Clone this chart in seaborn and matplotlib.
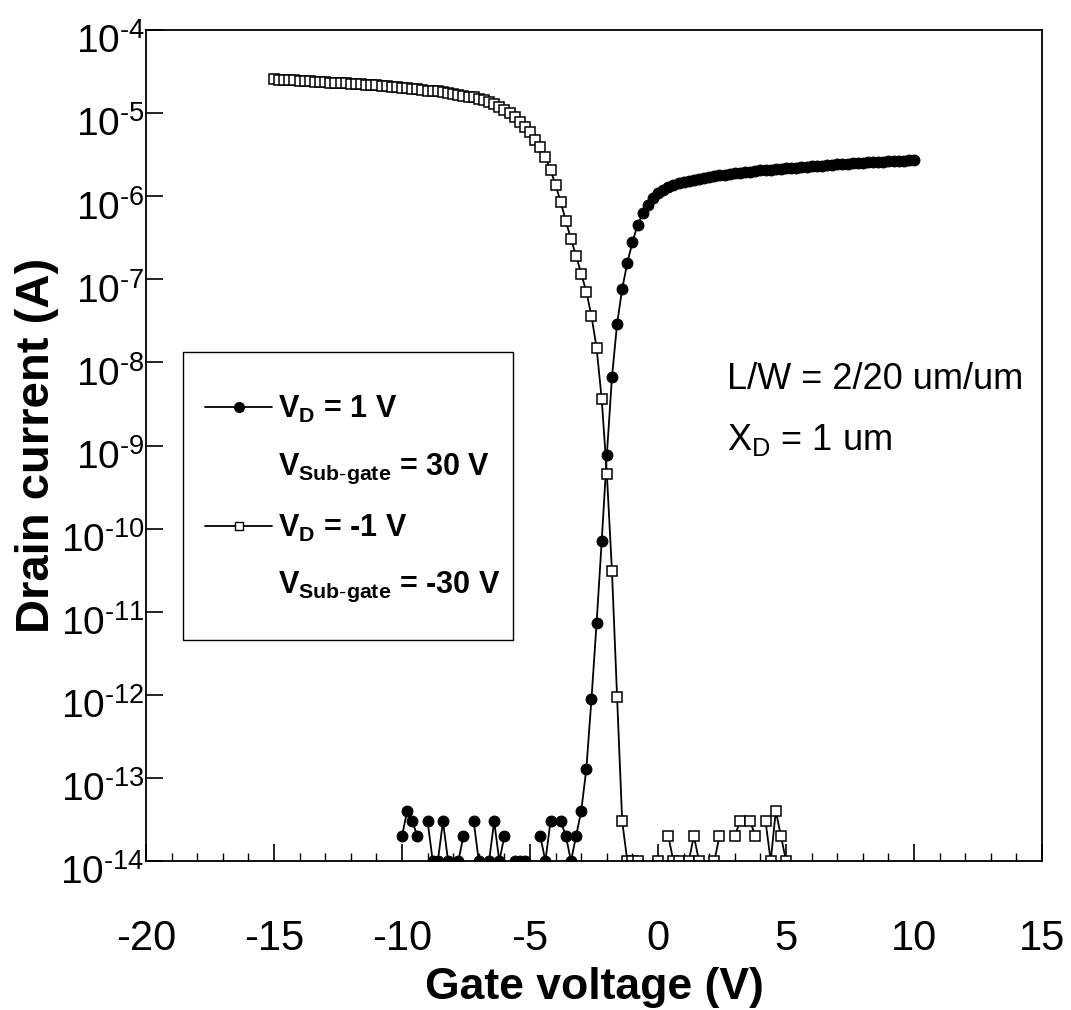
import numpy as np
import pandas as pd
import matplotlib
matplotlib.use("Agg")
import matplotlib.pyplot as plt
from matplotlib.lines import Line2D
from matplotlib.patches import Rectangle
from matplotlib.transforms import ScaledTranslation
from matplotlib.ticker import LogLocator, MultipleLocator, NullLocator, FuncFormatter
import seaborn as sns

# ---- measured transfer curves (gate sweeps in 0.2 V steps) ----
# NaN = reading below the instrument floor (not plotted on a log axis)
nan = np.nan

vg_pos_start, vg_pos_stop = -10.0, 10.0
id_pos = [  # V_D = 1 V, V_Sub-gate = 30 V
    2e-14, 4e-14, 3e-14, 2e-14, nan, 3e-14, 1e-14, 1e-14, 3e-14, 1e-14,
    nan, 1e-14, 2e-14, nan, 3e-14, 1e-14, nan, 1e-14, 3e-14, 1e-14,
    2e-14, nan, 1e-14, 1e-14, 1e-14, nan, nan, 2e-14, 1e-14, 3e-14,
    nan, 3e-14, 2e-14, 1e-14, 2e-14, 4e-14, 1.29e-13, 8.9e-13, 7.3e-12, 7.1e-11,
    7.7e-10, 6.6e-9, 2.9e-8, 7.7e-8, 1.58e-7, 2.8e-7, 4.5e-7, 6.2e-7, 7.9e-7, 9.5e-7,
    1.10e-6, 1.20e-6, 1.29e-6, 1.36e-6, 1.43e-6, 1.48e-6, 1.53e-6, 1.58e-6, 1.62e-6, 1.66e-6,
    1.70e-6, 1.74e-6, 1.78e-6, 1.82e-6, 1.84e-6, 1.88e-6, 1.91e-6, 1.95e-6, 1.97e-6, 2.00e-6,
    2.04e-6, 2.07e-6, 2.09e-6, 2.11e-6, 2.14e-6, 2.16e-6, 2.19e-6, 2.21e-6, 2.24e-6, 2.26e-6,
    2.29e-6, 2.32e-6, 2.34e-6, 2.37e-6, 2.40e-6, 2.43e-6, 2.45e-6, 2.47e-6, 2.49e-6, 2.51e-6,
    2.53e-6, 2.55e-6, 2.57e-6, 2.59e-6, 2.61e-6, 2.63e-6, 2.64e-6, 2.66e-6, 2.68e-6, 2.69e-6,
    2.71e-6,
]

vg_neg_start, vg_neg_stop = -15.0, 5.0
id_neg = [  # V_D = -1 V, V_Sub-gate = -30 V
    2.55e-5, 2.53e-5, 2.51e-5, 2.49e-5, 2.47e-5, 2.45e-5, 2.43e-5, 2.41e-5, 2.39e-5, 2.37e-5,
    2.35e-5, 2.33e-5, 2.31e-5, 2.29e-5, 2.28e-5, 2.25e-5, 2.24e-5, 2.22e-5, 2.20e-5, 2.18e-5,
    2.16e-5, 2.13e-5, 2.10e-5, 2.07e-5, 2.04e-5, 2.01e-5, 1.98e-5, 1.95e-5, 1.93e-5, 1.90e-5,
    1.87e-5, 1.85e-5, 1.82e-5, 1.78e-5, 1.74e-5, 1.70e-5, 1.66e-5, 1.62e-5, 1.58e-5, 1.55e-5,
    1.49e-5, 1.42e-5, 1.36e-5, 1.29e-5, 1.19e-5, 1.09e-5, 1.00e-5, 8.87e-6, 7.85e-6, 6.82e-6,
    5.86e-6, 4.79e-6, 3.89e-6, 2.95e-6, 2.07e-6, 1.36e-6, 8.5e-7, 5.0e-7, 3.05e-7, 1.91e-7,
    1.17e-7, 7.1e-8, 3.6e-8, 1.50e-8, 3.6e-9, 4.6e-10, 3.1e-11, 9.5e-13, 3e-14, 1e-14,
    1e-14, 1e-14, nan, nan, nan, 1e-14, nan, 2e-14, 1e-14, 1e-14,
    nan, 1e-14, 2e-14, 1e-14, nan, nan, 1e-14, 2e-14, nan, nan,
    2e-14, 3e-14, nan, 3e-14, 2e-14, nan, 3e-14, 1e-14, 4e-14, 2e-14,
    1e-14,
]

legend_labels = [
    r"$\mathbf{V_D}$ = 1 V",
    r"$\mathbf{V_{Sub\text{-}gate}}$ = 30 V",
    r"$\mathbf{V_D}$ = -1 V",
    r"$\mathbf{V_{Sub\text{-}gate}}$ = -30 V",
]
device_text = ["L/W = 2/20 um/um", r"X$_\mathregular{D}$ = 1 um"]


def sweep_frame(start, stop, current):
    n = len(current)
    vg = np.round(np.linspace(start, stop, n), 2)
    df = pd.DataFrame({"vg": vg, "id": current})
    # each run of valid readings becomes its own line segment
    df["seg"] = df["id"].isna().cumsum()
    return df.dropna()


pos = sweep_frame(vg_pos_start, vg_pos_stop, id_pos)
neg = sweep_frame(vg_neg_start, vg_neg_stop, id_neg)

sns.set_theme(style="ticks")
plt.rcParams["font.family"] = ["Liberation Sans", "DejaVu Sans"]
plt.rcParams["mathtext.fontset"] = "custom"
plt.rcParams["mathtext.rm"] = "Liberation Sans"
plt.rcParams["mathtext.bf"] = "Liberation Sans:bold"
plt.rcParams["mathtext.it"] = "Liberation Sans:italic"
plt.rcParams["axes.unicode_minus"] = False
for key in ["text.color", "axes.labelcolor", "xtick.color", "ytick.color", "axes.edgecolor"]:
    plt.rcParams[key] = "black"

fig = plt.figure(figsize=(10.71, 10.10), dpi=100)
ax = fig.add_axes([0.1363, 0.1475, 0.8367, 0.8228])

line_kw = dict(color="black", linewidth=1.3, estimator=None, sort=False, legend=False, ax=ax)
sns.lineplot(data=pos, x="vg", y="id", units="seg", marker="o", markersize=7.8,
             markerfacecolor="black", markeredgecolor="black", **line_kw)
sns.lineplot(data=neg, x="vg", y="id", units="seg", marker="s", markersize=7.0,
             markerfacecolor="white", markeredgecolor="black", markeredgewidth=1.1, **line_kw)

ax.set_yscale("log")
ax.set_ylim(1e-14, 1e-4)
ax.set_xlim(-20, 15)
ax.yaxis.set_major_locator(LogLocator(base=10, numticks=20))
ax.yaxis.set_minor_locator(NullLocator())
ax.yaxis.set_major_formatter(FuncFormatter(
    lambda v, p: r"$\mathregular{10^{\text{-}%d}}$" % round(-np.log10(v))))
ax.xaxis.set_major_locator(MultipleLocator(5))
ax.xaxis.set_minor_locator(MultipleLocator(1))

for s in ax.spines.values():
    s.set_linewidth(1.3)
    s.set_color("black")
ax.tick_params(which="both", direction="in", top=False, right=False, color="black")
ax.tick_params(which="major", length=12, width=1.2)
ax.tick_params(which="minor", length=6, width=1.0)
ax.tick_params(axis="x", which="major", labelsize=30, pad=42)
ax.tick_params(axis="y", which="major", labelsize=28, pad=1)
shift = ScaledTranslation(0, -6 / 72, fig.dpi_scale_trans)
for lab in ax.get_yticklabels():
    lab.set_transform(lab.get_transform() + shift)

ax.set_xlabel("Gate voltage (V)", fontsize=32, fontweight="bold")
ax.set_ylabel("Drain current (A)", fontsize=34, fontweight="bold")
ax.xaxis.set_label_coords(0.5, -0.128)
ax.yaxis.set_label_coords(-0.097, 0.5)

# legend: four rows (second line of each entry has no handle) inside a plain frame
blank = Line2D([], [], color="none")
h_pos = Line2D([], [], color="black", linewidth=1.3, marker="o", markersize=7,
               markerfacecolor="black", markeredgecolor="black")
h_neg = Line2D([], [], color="black", linewidth=1.3, marker="s", markersize=6,
               markerfacecolor="white", markeredgecolor="black")
leg = ax.legend([h_pos, blank, h_neg, blank], legend_labels,
                loc="upper left", bbox_to_anchor=(0.0658, 0.5620), borderaxespad=0,
                prop={"weight": "bold", "size": 22}, frameon=False,
                handlelength=2.2, handletextpad=0.2, labelspacing=0.87, borderpad=0)
ax.add_patch(Rectangle((0.0413, 0.266), 0.3683, 0.3465, transform=ax.transAxes,
                       fill=False, edgecolor="black", linewidth=1.0, zorder=5))

ax.text(0.648, 0.579, device_text[0], transform=ax.transAxes, fontsize=26, va="center", ha="left")
ax.text(0.648, 0.507, device_text[1], transform=ax.transAxes, fontsize=26, va="center", ha="left")

fig.savefig("out.png", dpi=100)
